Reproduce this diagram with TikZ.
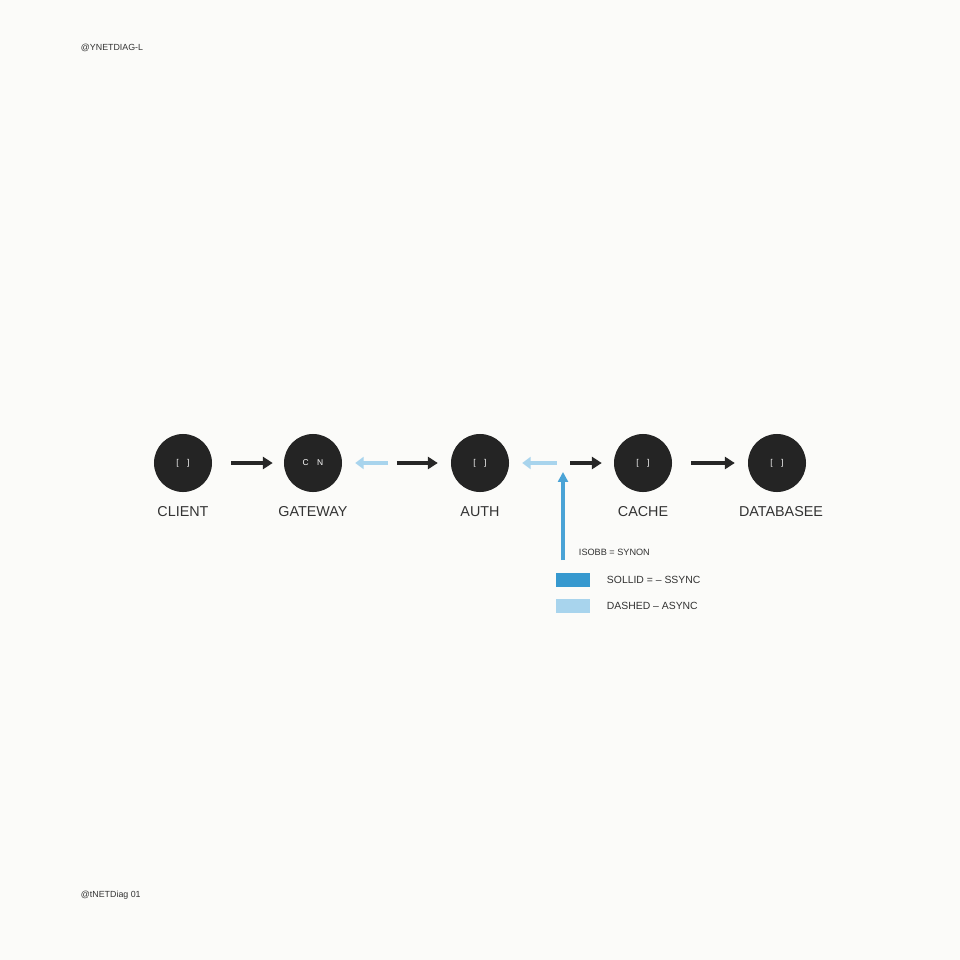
\documentclass[tikz,border=0pt]{standalone}
\usepackage{fontspec}
\setmainfont{Liberation Sans}
\usetikzlibrary{arrows.meta,positioning}

\begin{document}
\begin{tikzpicture}[x=0.025cm,y=-0.025cm,
  svc/.style={circle,fill=cnode,minimum size=1.45cm,inner sep=0pt,text=white,font=\fontsize{6}{6}\selectfont},
  lbl/.style={font=\fontsize{10.2}{11}\selectfont,text=ctext},
  sync/.style={line width=2.8pt,draw=carrow,-{Triangle[length=7pt,width=8.5pt]}},
  async/.style={line width=3.4pt,draw=clight,-{Triangle[length=6pt,width=8.5pt]}},
  key/.style={minimum width=0.85cm,minimum height=0.35cm,inner sep=0pt},
  note/.style={font=\fontsize{6.3}{7}\selectfont,text=ctext,anchor=west}]
%
\useasboundingbox (0,0) rectangle (960,960);
%
\definecolor{cbg}{rgb}{0.984,0.984,0.976}
\definecolor{cnode}{rgb}{0.14,0.14,0.14}
\definecolor{carrow}{rgb}{0.15,0.15,0.15}
\definecolor{ctext}{rgb}{0.2,0.2,0.2}
\definecolor{clight}{rgb}{0.66,0.83,0.93}
\definecolor{cblue}{rgb}{0.29,0.64,0.84}
\definecolor{ckey}{rgb}{0.21,0.6,0.81}
%
\fill[cbg] (0,0) rectangle (960,960);
%
\node[note] (tagtop) at (76,48) {@YNETDIAG-L};
\node[note] (tagbot) at (76,895) {@tNETDiag 01};
%
\node[svc] (client) at (183,463) {[\quad]};
\node[svc] (gateway) at (313,463) {C\quad N};
\node[svc] (auth) at (480,463) {[\quad]};
\node[svc] (cache) at (643,463) {[\quad]};
\node[svc] (database) at (777,463) {[\quad]};
%
\node[lbl] (lclient) at (183,512) {CLIENT};
\node[lbl] (lgateway) at (313,512) {GATEWAY};
\node[lbl] (lauth) at (480,512) {AUTH};
\node[lbl] (lcache) at (643,512) {CACHE};
\node[lbl] (ldatabase) at (781,512) {DATABASEE};
%
\coordinate (ga) at (392,463);
\coordinate (ac) at (563,463);
\coordinate (lg) at (563,560);
%
\draw[sync,shorten <=13.5pt,shorten >=7.8pt] (client) -- (gateway);
\draw[async,shorten <=2.8pt,shorten >=9.2pt] (ga) -- (gateway);
\draw[sync,shorten <=3.5pt,shorten >=9.2pt] (ga) -- (auth);
\draw[async,shorten <=4.3pt,shorten >=9.2pt] (ac) -- (auth);
\draw[sync,shorten <=5pt,shorten >=8.5pt] (ac) -- (cache);
\draw[line width=2.3pt,draw=cblue,-{Triangle[length=7pt,width=7pt]},shorten >=6.4pt] (lg) -- (ac);
\draw[sync,shorten <=13.5pt,shorten >=9.2pt] (cache) -- (database);
%
\node[note,font=\fontsize{6.5}{7}\selectfont] (keyhead) at (574,552) {ISOBB = SYNON};
\node[key,fill=ckey] (keysync) at (573,580) {};
\node[key,fill=clight] (keyasync) at (573,606) {};
\node[note,font=\fontsize{7.4}{8}\selectfont] (lsync) at (602,580) {SOLLID = -- SSYNC};
\node[note,font=\fontsize{7.4}{8}\selectfont] (lasync) at (602,606) {DASHED -- ASYNC};
%
\end{tikzpicture}
\end{document}
